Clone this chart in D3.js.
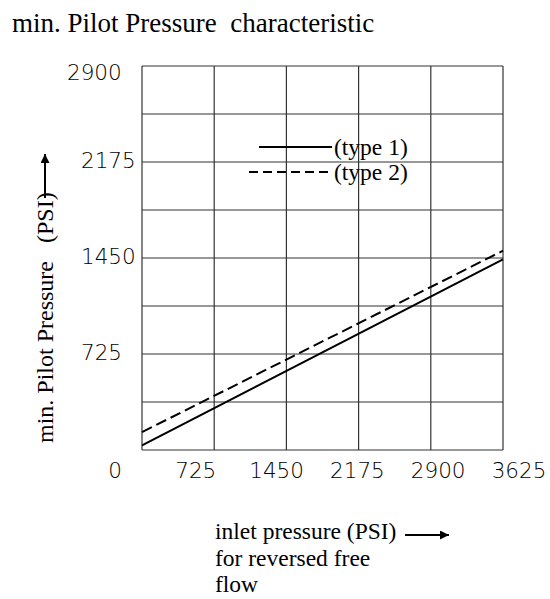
<!DOCTYPE html>
<html>
<head>
<meta charset="utf-8">
<script src="https://cdn.jsdelivr.net/npm/d3@7"></script>
<style>
  body { margin: 0; background: #fff; }
  text { white-space: pre; }
</style>
</head>
<body>
<script>
// data
const inletPressure = [0, 3625];
const type1 = [35, 1440];
const type2 = [135, 1505];

const xTicks = [0, 725, 1450, 2175, 2900, 3625];
const yTicks = [0, 725, 1450, 2175, 2900];
const yGrid = [0, 362.5, 725, 1087.5, 1450, 1812.5, 2175, 2537.5, 2900];

const seriesNames = ["(type 1)", "(type 2)"];

const WIDTH = 550;
const HEIGHT = 599;

const margin = { top: 66, left: 142, right: 47, bottom: 149 };
const innerW = WIDTH - margin.left - margin.right;
const innerH = HEIGHT - margin.top - margin.bottom;

const svg = d3.select("body").append("svg")
  .attr("width", WIDTH)
  .attr("height", HEIGHT);

const serif = "'Liberation Serif', 'Times New Roman', serif";
const sans = "'DejaVu Sans', sans-serif";

// title
svg.append("text")
  .attr("x", 12)
  .attr("y", 32)
  .attr("font-family", serif)
  .attr("font-size", 27)
  .text("min. Pilot Pressure  characteristic");

const g = svg.append("g")
  .attr("transform", `translate(${margin.left},${margin.top})`);

const x = d3.scaleLinear().domain([0, 3625]).range([0, innerW]);
const y = d3.scaleLinear().domain([0, 2900]).range([innerH, 0]);

// grid
g.selectAll(".vgrid").data(xTicks).enter().append("line")
  .attr("x1", d => x(d)).attr("x2", d => x(d))
  .attr("y1", 0).attr("y2", innerH)
  .attr("stroke", "#333").attr("stroke-width", 1.2);

g.selectAll(".hgrid").data(yGrid).enter().append("line")
  .attr("y1", d => y(d)).attr("y2", d => y(d))
  .attr("x1", 0).attr("x2", innerW)
  .attr("stroke", "#333").attr("stroke-width", 1.2);

// tick labels (the drawing spreads the x labels a bit wider than the grid)
const xLabel = d3.scaleLinear().domain([0, 3625]).range([-27, 377]);

g.selectAll(".xlab").data(xTicks).enter().append("text")
  .attr("x", d => xLabel(d))
  .attr("y", innerH + 28)
  .attr("text-anchor", "middle")
  .attr("font-family", sans)
  .attr("font-weight", 200)
  .attr("font-size", 21.5)
  .attr("fill", "#000")
  .text(d => d);

g.selectAll(".ylab").data(yTicks.filter(d => d > 0)).enter().append("text")
  .attr("x", d => d === 2900 ? -75 : -61)
  .attr("y", d => Math.max(y(d) + 6, 14))
  .attr("font-family", sans)
  .attr("font-weight", 200)
  .attr("font-size", 21.5)
  .attr("fill", "#000")
  .text(d => d);

// lines
const pts = vals => inletPressure.map((p, i) => [p, vals[i]]);
const line = d3.line().x(d => x(d[0])).y(d => y(d[1]));

g.append("path")
  .attr("d", line(pts(type1)))
  .attr("fill", "none").attr("stroke", "#000").attr("stroke-width", 2);

g.append("path")
  .attr("d", line(pts(type2)))
  .attr("fill", "none").attr("stroke", "#000").attr("stroke-width", 2)
  .attr("stroke-dasharray", "11,5");

// legend
const legend = svg.append("g");
legend.append("line")
  .attr("x1", 259).attr("x2", 332).attr("y1", 147).attr("y2", 147)
  .attr("stroke", "#000").attr("stroke-width", 2);
legend.append("line")
  .attr("x1", 249).attr("x2", 332).attr("y1", 172).attr("y2", 172)
  .attr("stroke", "#000").attr("stroke-width", 2)
  .attr("stroke-dasharray", "9,5");
legend.selectAll("text").data(seriesNames).enter().append("text")
  .attr("x", 334)
  .attr("y", (d, i) => 155 + i * 25)
  .attr("font-family", serif)
  .attr("font-size", 23.5)
  .text(d => d);

// arrowhead
svg.append("defs").append("marker")
  .attr("id", "arrow")
  .attr("viewBox", "0 0 10 10")
  .attr("refX", 10).attr("refY", 5)
  .attr("markerWidth", 13).attr("markerHeight", 9)
  .attr("markerUnits", "userSpaceOnUse")
  .attr("orient", "auto")
  .append("path").attr("d", "M0,0L10,5L0,10Z").attr("fill", "#000");

// y axis title
svg.append("text")
  .attr("transform", "translate(53,443) rotate(-90)")
  .attr("font-family", serif)
  .attr("font-size", 24)
  .text("min. Pilot Pressure   (PSI)");
svg.append("line")
  .attr("x1", 45).attr("x2", 45).attr("y1", 198).attr("y2", 154)
  .attr("stroke", "#000").attr("stroke-width", 2)
  .attr("marker-end", "url(#arrow)");

// x axis title
const xt = svg.append("text")
  .attr("font-family", serif)
  .attr("font-size", 23.5);
["inlet pressure (PSI)", "for reversed free", "flow"].forEach((s, i) => {
  xt.append("tspan").attr("x", 215).attr("y", 539 + i * 26.5).text(s);
});
svg.append("line")
  .attr("x1", 405).attr("x2", 449).attr("y1", 535).attr("y2", 535)
  .attr("stroke", "#000").attr("stroke-width", 2)
  .attr("marker-end", "url(#arrow)");
</script>
</body>
</html>
